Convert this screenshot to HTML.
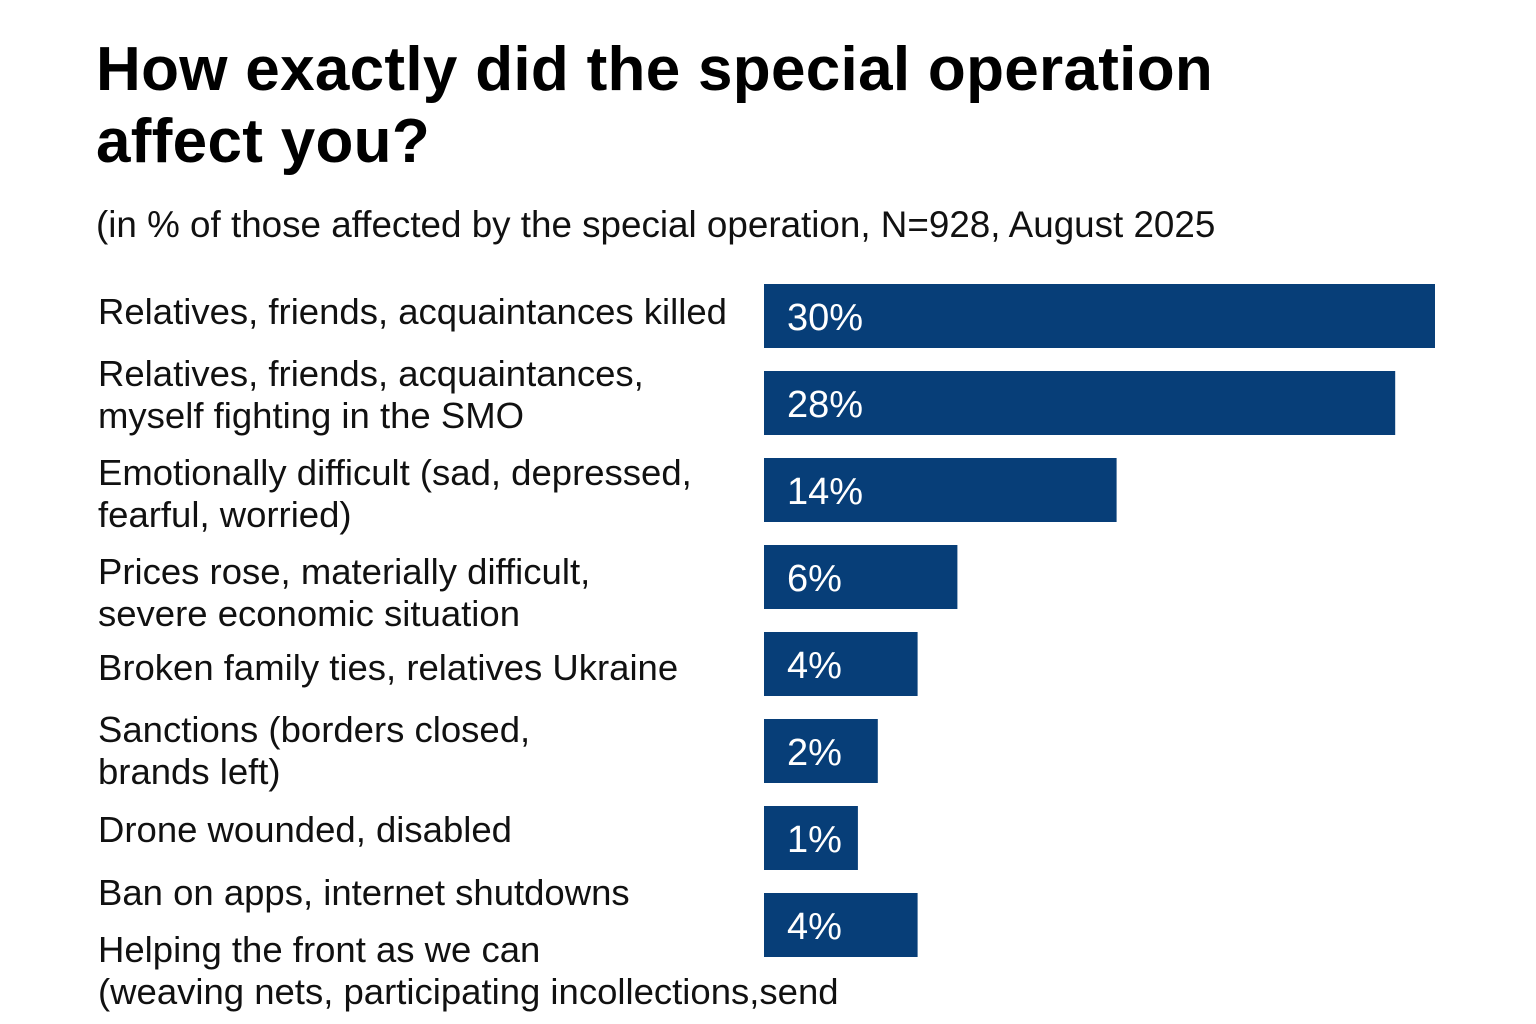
<!DOCTYPE html>
<html><head><meta charset="utf-8"><style>
body{margin:0;width:1536px;height:1024px;background:#fff;font-family:"Liberation Sans",sans-serif;position:relative;overflow:hidden}
.t{position:absolute;left:96px;top:34px;font-size:62px;font-weight:bold;line-height:72px;color:#000;letter-spacing:0.3px}
.s{position:absolute;left:96px;top:204px;font-size:36.8px;color:#111}
.l{position:absolute;left:98px;font-size:36.5px;line-height:42px;color:#111;white-space:nowrap}
</style></head><body>
<div class="t">How exactly did the special operation<br>affect you?</div>
<div class="s">(in % of those affected by the special operation, N=928, August 2025</div>
<div class="l" style="top:291px">Relatives, friends, acquaintances killed</div>
<div class="l" style="top:353px">Relatives, friends, acquaintances,<br>myself fighting in the SMO</div>
<div class="l" style="top:452px">Emotionally difficult (sad, depressed,<br>fearful, worried)</div>
<div class="l" style="top:551px">Prices rose, materially difficult,<br>severe economic situation</div>
<div class="l" style="top:647px">Broken family ties, relatives Ukraine</div>
<div class="l" style="top:709px">Sanctions (borders closed,<br>brands left)</div>
<div class="l" style="top:809px">Drone wounded, disabled</div>
<div class="l" style="top:872px">Ban on apps, internet shutdowns</div>
<div class="l" style="top:929px">Helping the front as we can<br>(weaving nets, participating incollections,send</div>
<svg id="c" width="1536" height="1024" style="position:absolute;left:0;top:0"></svg>
<script>
const categories=["killed","fighting","emotional","prices","family","sanctions","drone","apps"];
const values=[30,28,14,6,4,2,1,4];
const valueLabels=["30%","28%","14%","6%","4%","2%","1%","4%"];
const svg=document.getElementById('c');
const NS='http://www.w3.org/2000/svg';
function xw(v){return 74+19.9*v;}
function yb(i){return 284+87*i;}
values.forEach((v,i)=>{
 const r=document.createElementNS(NS,'rect');
 r.setAttribute('x',764);r.setAttribute('y',yb(i));
 r.setAttribute('width',xw(v));r.setAttribute('height',64);
 r.setAttribute('fill','#073e78');
 
 
 svg.appendChild(r);
 const t=document.createElementNS(NS,'text');
 t.setAttribute('x',787);t.setAttribute('y',yb(i)+46);
 t.setAttribute('fill','#fff');t.setAttribute('font-size','38');
 t.setAttribute('font-family','Liberation Sans, sans-serif');
 t.textContent=valueLabels[i];
 
 
 svg.appendChild(t);
});
</script>
</body></html>
